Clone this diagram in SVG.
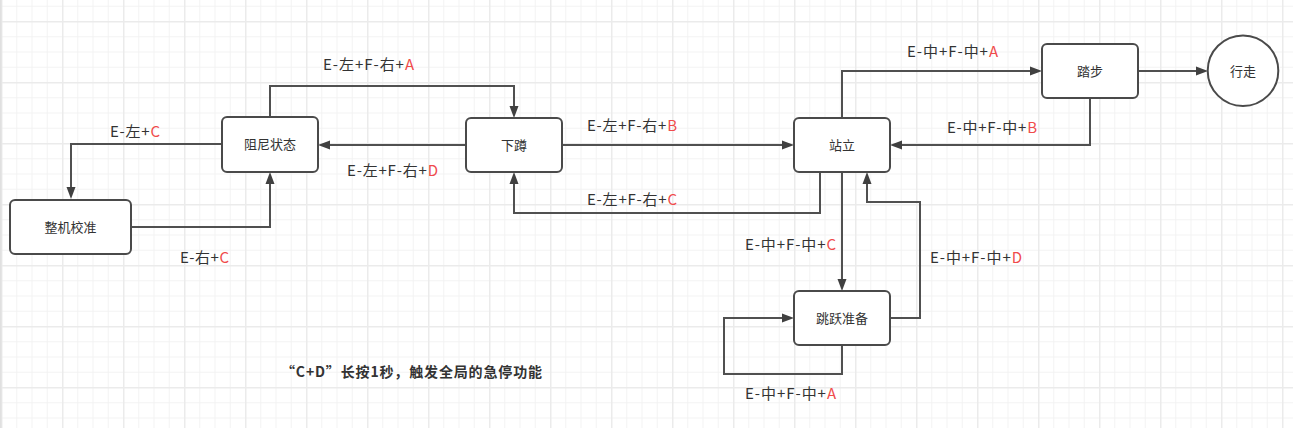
<svg xmlns="http://www.w3.org/2000/svg" width="1293" height="428" viewBox="0 0 1293 428">
<style>
.node{fill:#ffffff;stroke:#4a4a4a;stroke-width:2}
.nt{font-family:"Noto Sans CJK SC","Noto Sans",sans-serif;font-size:13px;fill:#333333;text-anchor:middle}
.lbl{font-family:"Noto Sans CJK SC","Noto Sans",sans-serif;font-size:15px;fill:#333333}
.r{fill:#f04b4b}
.edge{fill:none;stroke:#505050;stroke-width:2}
.note{font-family:"Noto Sans CJK SC","Noto Sans",sans-serif;font-size:14px;font-weight:bold;fill:#333333}
</style>
<defs>
<pattern id="grid" patternUnits="userSpaceOnUse" x="1" y="21" width="61" height="61">
<rect x="0" y="0" width="61" height="61" fill="#ffffff"/>
<rect x="15.25" y="0" width="1" height="61" fill="#f3f3f3"/>
<rect x="30.5" y="0" width="1" height="61" fill="#f3f3f3"/>
<rect x="45.75" y="0" width="1" height="61" fill="#f3f3f3"/>
<rect x="0" y="15.25" width="61" height="1" fill="#f3f3f3"/>
<rect x="0" y="30.5" width="61" height="1" fill="#f3f3f3"/>
<rect x="0" y="45.75" width="61" height="1" fill="#f3f3f3"/>
<rect x="0" y="0" width="1.5" height="61" fill="#ebebeb"/>
<rect x="0" y="0" width="61" height="1.5" fill="#ebebeb"/>
</pattern>
<marker id="arr" markerUnits="userSpaceOnUse" viewBox="0 0 12 10" refX="3" refY="5" markerWidth="12" markerHeight="10" orient="auto">
<path d="M0,0.5 L12,5 L0,9.5 z" fill="#404040"/>
</marker>
</defs>
<rect x="0" y="0" width="1293" height="428" fill="url(#grid)"/>
<rect x="0" y="0" width="1.5" height="428" fill="#e0e0e0"/>

<g id="connectors">
<path class="edge" d="M222,144 H71 V190" marker-end="url(#arr)"/>
<path class="edge" d="M131,227 H270 V181" marker-end="url(#arr)"/>
<path class="edge" d="M270,117 V86 H514 V109" marker-end="url(#arr)"/>
<path class="edge" d="M466,145 H327" marker-end="url(#arr)"/>
<path class="edge" d="M562,145 H785" marker-end="url(#arr)"/>
<path class="edge" d="M820,172 V213 H514 V181" marker-end="url(#arr)"/>
<path class="edge" d="M842,118 V71 H1033" marker-end="url(#arr)"/>
<path class="edge" d="M1090,98 V145 H899" marker-end="url(#arr)"/>
<path class="edge" d="M1138,71 H1199" marker-end="url(#arr)"/>
<path class="edge" d="M842,172 V282" marker-end="url(#arr)"/>
<path class="edge" d="M890,318 H920 V202 H867 V181" marker-end="url(#arr)"/>
<path class="edge" d="M842,345 V374 H724 V318 H785" marker-end="url(#arr)"/>
</g>

<g id="labels">
<text class="lbl" x="110" y="137" textLength="50">E-左+<tspan class="r">C</tspan></text>
<text class="lbl" x="180" y="263" textLength="49">E-右+<tspan class="r">C</tspan></text>
<text class="lbl" x="323" y="70" textLength="91">E-左+F-右+<tspan class="r">A</tspan></text>
<text class="lbl" x="347" y="176" textLength="91">E-左+F-右+<tspan class="r">D</tspan></text>
<text class="lbl" x="587" y="131" textLength="90">E-左+F-右+<tspan class="r">B</tspan></text>
<text class="lbl" x="587" y="205" textLength="90">E-左+F-右+<tspan class="r">C</tspan></text>
<text class="lbl" x="907" y="57" textLength="91">E-中+F-中+<tspan class="r">A</tspan></text>
<text class="lbl" x="947" y="133" textLength="90">E-中+F-中+<tspan class="r">B</tspan></text>
<text class="lbl" x="745" y="250" textLength="91">E-中+F-中+<tspan class="r">C</tspan></text>
<text class="lbl" x="930" y="263" textLength="92">E-中+F-中+<tspan class="r">D</tspan></text>
<text class="lbl" x="745" y="399" textLength="91">E-中+F-中+<tspan class="r">A</tspan></text>
</g>

<g id="node-calib">
<rect class="node" x="10" y="200" width="121" height="54" rx="5"/>
<text class="nt" x="70.5" y="231.5">整机校准</text>
</g>
<g id="node-damp">
<rect class="node" x="222" y="117" width="96" height="55" rx="5"/>
<text class="nt" x="270" y="149">阻尼状态</text>
</g>
<g id="node-squat">
<rect class="node" x="466" y="118" width="96" height="54" rx="5"/>
<text class="nt" x="514" y="149.5">下蹲</text>
</g>
<g id="node-stand">
<rect class="node" x="794" y="118" width="96" height="54" rx="5"/>
<text class="nt" x="842" y="149.5">站立</text>
</g>
<g id="node-step">
<rect class="node" x="1042" y="44" width="96" height="54" rx="5"/>
<text class="nt" x="1090" y="75.5">踏步</text>
</g>
<g id="node-walk">
<circle class="node" cx="1243" cy="70.7" r="35.3" stroke-width="1.6"/>
<text class="nt" x="1243" y="75.5">行走</text>
</g>
<g id="node-jump">
<rect class="node" x="794" y="291" width="96" height="54" rx="5"/>
<text class="nt" x="842" y="322.5">跳跃准备</text>
</g>

<g id="note">
<text class="note" x="281" y="377" textLength="261">“C+D”长按1秒，触发全局的急停功能</text>
</g>
</svg>
